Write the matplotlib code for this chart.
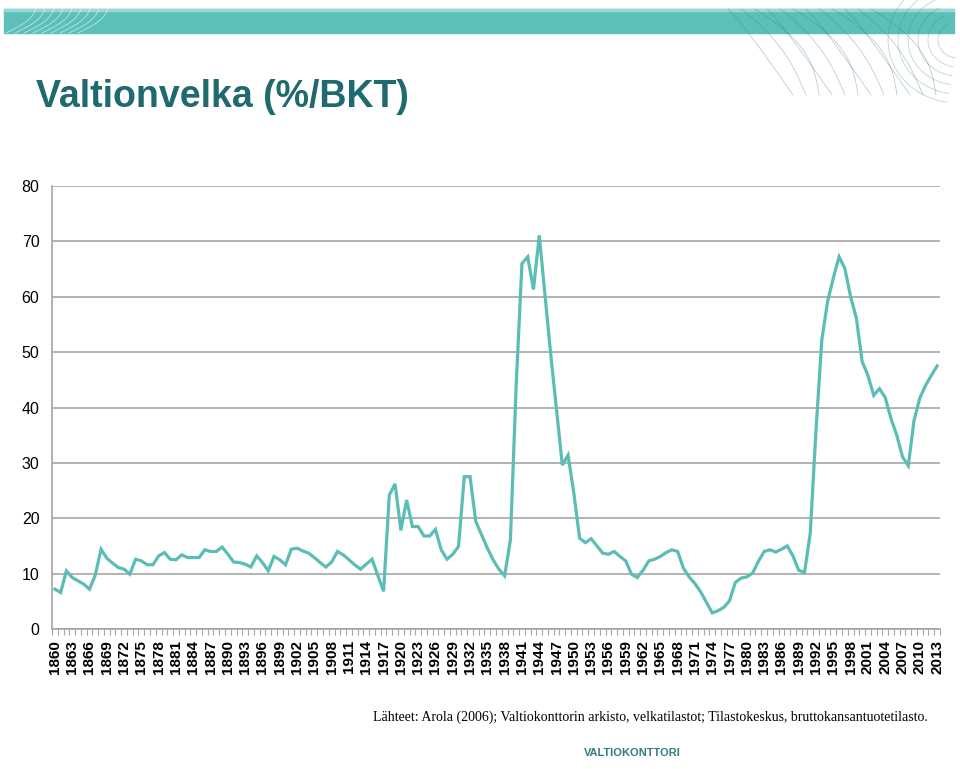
import numpy as np
import matplotlib
matplotlib.use("Agg")
import matplotlib.pyplot as plt
import matplotlib.patches as patches

# Valtionvelka, % BKT:sta, 1860-2013
years = list(range(1860, 2014))
debt = [
    7.2, 6.6, 10.5, 9.3, 8.7, 8.1, 7.2, 9.7, 14.4, 12.8,        # 1860-1869
    11.9, 11.1, 10.8, 9.9, 12.6, 12.3, 11.6, 11.6, 13.2, 13.8,  # 1870-1879
    12.6, 12.5, 13.4, 12.9, 12.9, 12.9, 14.3, 14.0, 14.0, 14.8, # 1880-1889
    13.5, 12.1, 12.0, 11.7, 11.2, 13.2, 12.0, 10.5, 13.1, 12.5, # 1890-1899
    11.6, 14.4, 14.6, 14.1, 13.7, 12.9, 12.0, 11.2, 12.1, 14.0, # 1900-1909
    13.4, 12.5, 11.6, 10.8, 11.7, 12.6, 9.7, 6.8, 24.2, 26.2,   # 1910-1919
    17.8, 23.3, 18.5, 18.5, 16.8, 16.8, 18.0, 14.3, 12.6, 13.5, # 1920-1929
    14.9, 27.5, 27.5, 19.4, 17.0, 14.6, 12.5, 10.8, 9.6, 16.1,  # 1930-1939
    44.0, 66.0, 67.2, 61.3, 71.1, 60.3, 49.5, 39.5, 29.6, 31.4, # 1940-1949
    24.5, 16.4, 15.6, 16.3, 15.0, 13.7, 13.5, 14.0, 13.1, 12.3, # 1950-1959
    9.9, 9.3, 10.6, 12.3, 12.6, 13.1, 13.8, 14.3, 14.0, 11.0,   # 1960-1969
    9.4, 8.2, 6.7, 4.8, 2.9, 3.3, 3.9, 5.1, 8.4, 9.2,           # 1970-1979
    9.4, 10.1, 12.2, 14.0, 14.3, 13.9, 14.4, 15.0, 13.2, 10.6,  # 1980-1989
    10.2, 17.3, 36.0, 52.2, 59.1, 63.4, 67.2, 65.1, 60.0, 56.1, # 1990-1999
    48.3, 45.8, 42.2, 43.4, 41.8, 38.0, 35.0, 31.1, 29.5, 37.7, # 2000-2009
    41.7, 44.0, 45.8, 47.5,                                     # 2010-2013
]
yticks = [0, 10, 20, 30, 40, 50, 60, 70, 80]

title = "Valtionvelka (%/BKT)"
source = ("Lähteet: Arola (2006); Valtiokonttorin arkisto, velkatilastot; "
          "Tilastokeskus, bruttokansantuotetilasto.")

teal = "#5bbdb5"
dark_teal = "#1e6a6e"
grid_grey = "#a6a6a6"

fig = plt.figure(figsize=(9.6, 7.69), dpi=100)
W, H = 960, 769

# header banner
bg = fig.add_axes([0, 0, 1, 1])
bg.set_xlim(0, W)
bg.set_ylim(H, 0)
bg.axis("off")
bg.add_patch(patches.Rectangle((4, 9), 950, 24, color="#5cbfb8", zorder=1))
bg.add_patch(patches.Rectangle((4, 9), 950, 1.5, color="#9ad8d3", zorder=2))

# decorative wave lines (rough)
t = np.linspace(0, 1, 60)
for i in range(9):
    x0 = 6 + i * 9
    xs = x0 + 30 * t + 6 * np.sin(t * np.pi)
    ys = 33 - 24 * t
    bg.plot(xs, ys, color="white", lw=0.6, alpha=0.6, zorder=3)
for i in range(12):
    x0 = 728 + i * 13
    xs = x0 + 65 * t + 8 * np.sin(t * np.pi) * (i % 3)
    ys = 9 + 86 * t ** 1.1
    bg.plot(xs, ys, color="#4e7f80", lw=0.5, alpha=0.45, zorder=3)
for i in range(6):
    r = 20 + i * 10
    ang = np.linspace(0.55 * np.pi, 1.35 * np.pi, 60)
    bg.plot(958 + r * np.cos(ang), 40 + 0.9 * r * np.sin(ang),
            color="#4e7f80", lw=0.5, alpha=0.4, zorder=3)

fig.text(36 / W, 1 - 97 / H, title, fontsize=27, fontweight="bold",
         color=dark_teal, family="Liberation Sans", va="center", ha="left")

# chart
ax = fig.add_axes([52 / W, 1 - 629 / H, 888 / W, 443 / H])
x = np.arange(len(years))
ax.plot(x, debt, color=teal, lw=2.3, solid_joinstyle="miter", zorder=3)

ax.set_ylim(0, 80)
ax.set_xlim(-0.5, len(years) - 0.5)
ax.set_yticks(yticks)
ax.set_yticklabels([str(v) for v in yticks], fontsize=11.5,
                   family="Liberation Sans")
ax.yaxis.grid(True, color=grid_grey, lw=1.2)
ax.set_axisbelow(True)
ax.tick_params(axis="y", length=0, pad=9)

ax.set_xticks(x[::3])
ax.set_xticklabels([str(y) for y in years[::3]], rotation=90, fontsize=11,
                   fontweight="bold", family="Liberation Sans")
ax.set_xticks(np.arange(len(years) + 1) - 0.5, minor=True)
ax.tick_params(axis="x", which="major", length=0, pad=8)
ax.tick_params(axis="x", which="minor", length=4, color=grid_grey, width=0.8)

for s in ["top", "right"]:
    ax.spines[s].set_visible(False)
ax.spines["left"].set_color(grid_grey)
ax.spines["bottom"].set_color(grid_grey)
ax.spines["left"].set_linewidth(1.2)
ax.spines["bottom"].set_linewidth(1.2)

fig.text(373 / W, 1 - 717 / H, source, fontsize=10, family="Liberation Serif",
         va="center", ha="left")
fig.text(632 / W, 1 - 753 / H, "VALTIOKONTTORI", fontsize=8,
         fontweight="bold", color="#2f7c80", family="Liberation Sans",
         va="center", ha="center")

fig.savefig("out.png", dpi=100)
